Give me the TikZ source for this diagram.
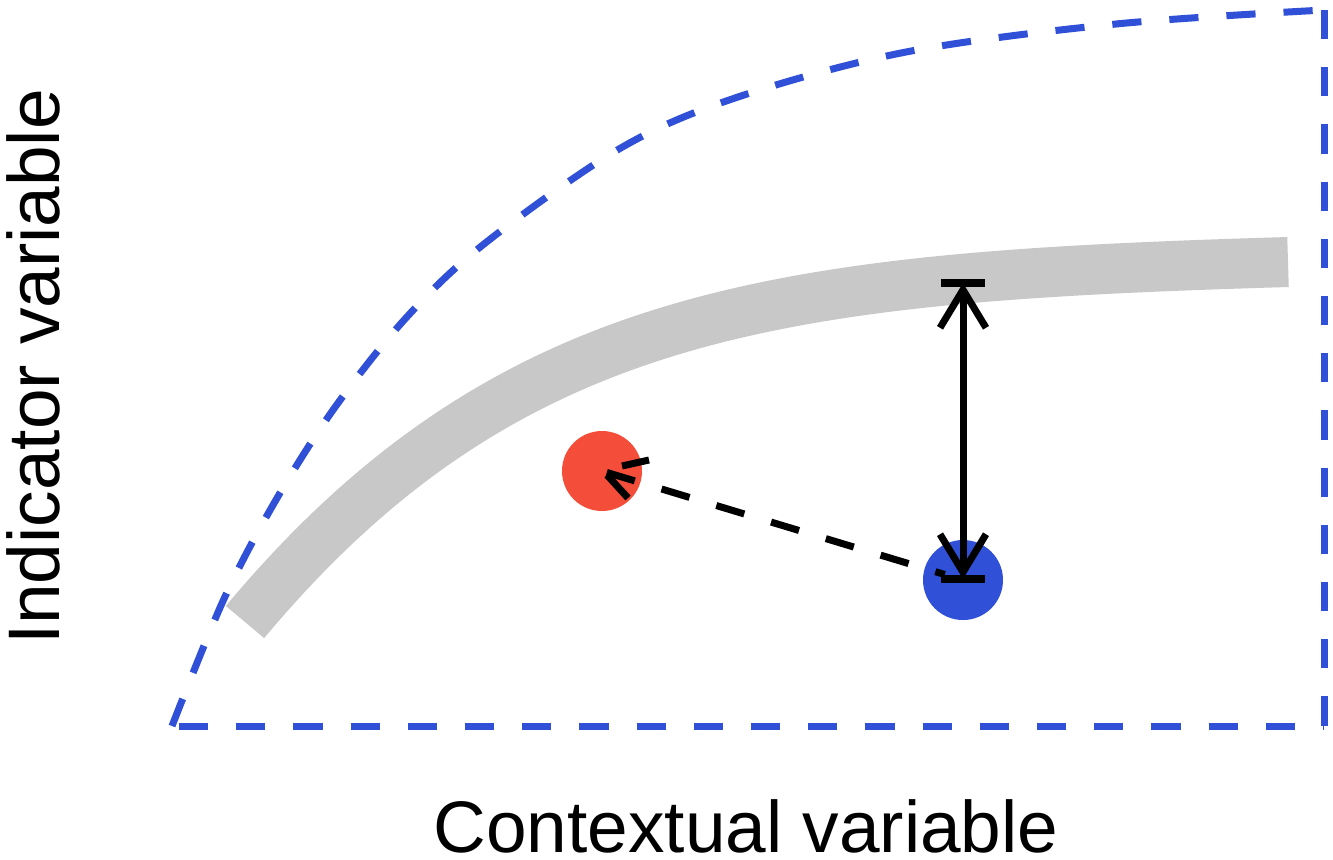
\documentclass[tikz,border=0pt]{standalone}
\usepackage{fontspec}
\setmainfont{Liberation Sans}
\usetikzlibrary{arrows.meta}
\definecolor{gband}{HTML}{C8C8C8}
\definecolor{bluec}{HTML}{3050D8}
\definecolor{redc}{HTML}{F44D3A}
\tikzset{mybarb/.tip={Straight Barb[length=19pt,width=23pt,line cap=butt,line join=miter]}}
\begin{document}
\begin{tikzpicture}[x=0.5pt,y=-0.5pt,
  bdash/.style={draw=bluec, line width=3.5pt, dash pattern=on 14.6pt off 14pt},
  blk/.style={draw=black, line width=3.5pt},
  dot/.style={circle, inner sep=0pt, minimum size=40pt},
  lab/.style={font=\fontsize{36.5}{40}\selectfont, inner sep=0pt}]
\useasboundingbox (0,0) rectangle (1333,859);
\fill[white] (0,0) rectangle (1333,859);
% coordinates
\coordinate (BL) at (172,726);
\coordinate (TR) at (1324,10);
\coordinate (BR) at (1324,726);
\coordinate (gs) at (245,622);
\coordinate (ge) at (1288,262);
\coordinate (atop) at (963,283);
\coordinate (abot) at (963,579);
% gray curve
\draw[gband, line width=25pt] (gs) .. controls (511,304) and (788,277) .. (ge);
% blue dashed boundary
\draw[bdash] plot[smooth, tension=0.55] coordinates {(172,726) (223,601) (273,505) (333,410) (405,319) (484,244) (619,149) (735,98) (906,52) (1116,24) (1324,10)};
\draw[bdash] (TR) -- (BR);
\draw[bdash, dash phase=25.1pt] (BL) -- (BR);
% dots
\node[dot, fill=redc] (red) at (602,471) {};
\node[dot, fill=bluec] (blue) at (963,580) {};
% dashed arrow
\draw[blk, dash pattern=on 14.6pt off 14pt, shorten <=2.5pt, shorten >=9.5pt] (red.center) -- (blue.center);
\draw[blk] (622,466) -- (649,460);
\draw[blk] (607,475) -- (628,498);
% vertical arrow
\draw[blk, mybarb-mybarb] (atop) -- (abot);
\draw[blk, line width=4pt] ([xshift=-11pt]atop) -- ([xshift=11pt]atop);
\draw[blk, line width=4pt] ([xshift=-11pt]abot) -- ([xshift=11pt]abot);
% labels
\node[lab, anchor=base] (xl) at (746,852) {Contextual variable};
\node[lab, anchor=base, rotate=90] (yl) at (59,367) {Indicator variable};
\end{tikzpicture}
\end{document}
